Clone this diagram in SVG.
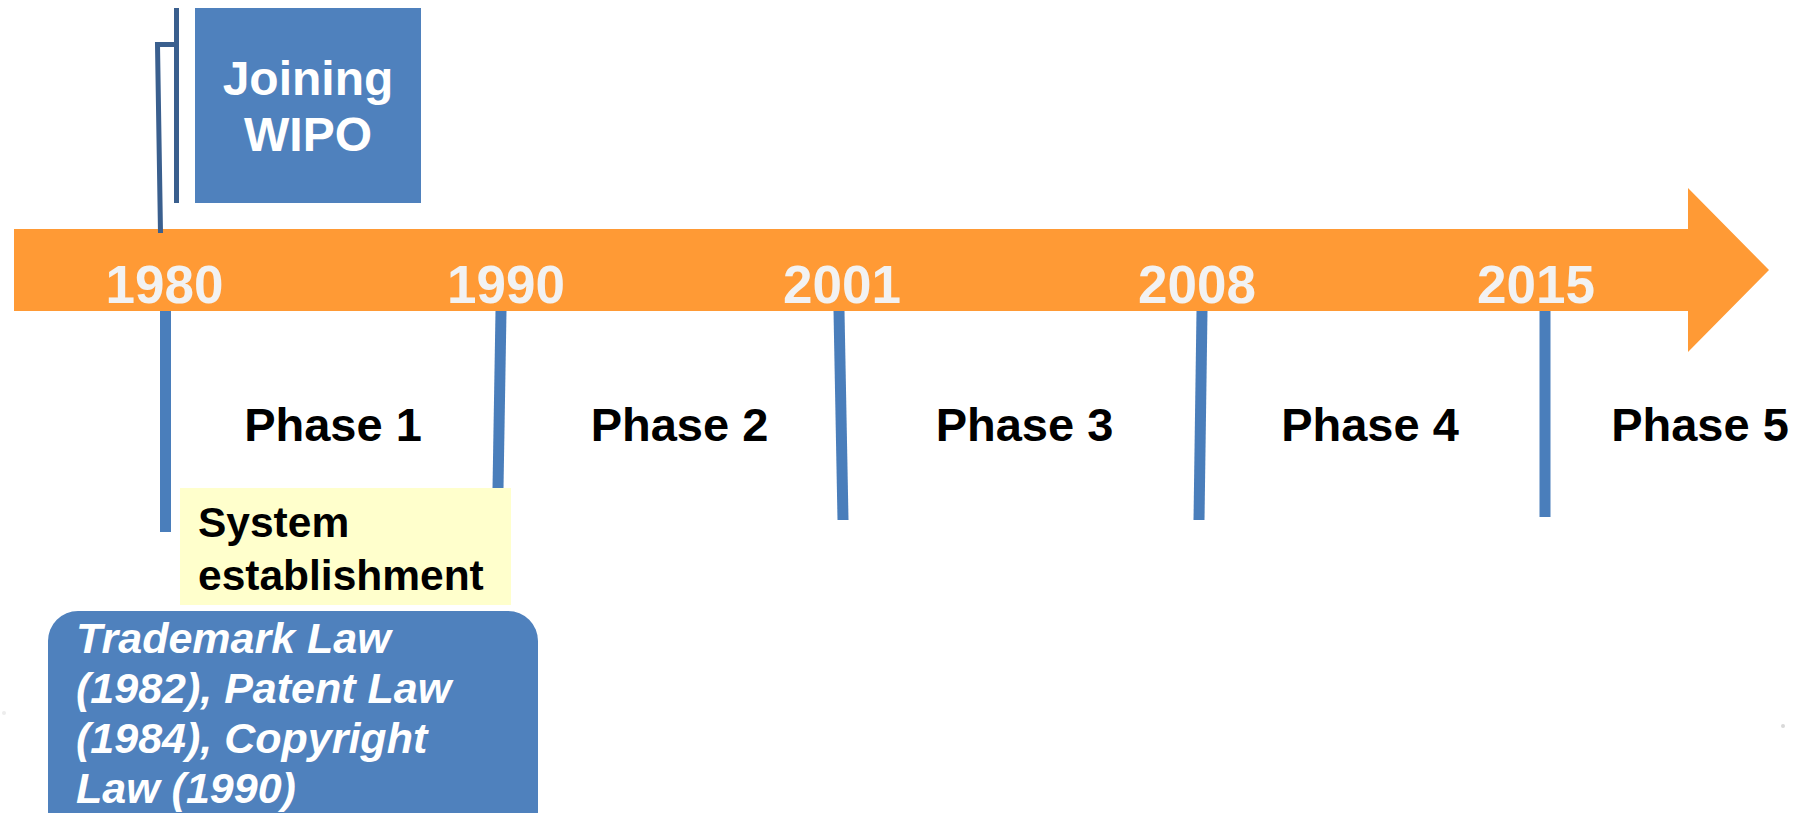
<svg xmlns="http://www.w3.org/2000/svg" width="1805" height="813" viewBox="0 0 1805 813">
  <style>
    .year { font-family: "Liberation Sans", Arial, sans-serif; font-weight: bold; font-size: 53px; fill: #F2F2F2; text-anchor: middle; }
    .phase { font-family: "Liberation Sans", Arial, sans-serif; font-weight: bold; font-size: 47px; fill: #000000; text-anchor: middle; }
    .wipo { font-family: "Liberation Sans", Arial, sans-serif; font-weight: bold; font-size: 48px; fill: #FFFFFF; text-anchor: middle; }
    .note { font-family: "Liberation Sans", Arial, sans-serif; font-weight: bold; font-size: 42.5px; fill: #000000; }
    .law { font-family: "Liberation Sans", Arial, sans-serif; font-weight: bold; font-style: italic; font-size: 43px; fill: #FFFFFF; }
    .tick { stroke: #4A7EBB; stroke-width: 11; fill: none; }
    .callout { stroke: #3A5F8E; stroke-width: 5; fill: none; }
  </style>
  <rect width="1805" height="813" fill="#FFFFFF"/>

  <g id="timeline">
    <polygon points="14,229 1688,229 1688,188 1769,270 1688,352 1688,311 14,311" fill="#FF9A35"/>
    <text class="year" x="164.5" y="303">1980</text>
    <text class="year" x="506" y="303">1990</text>
    <text class="year" x="842" y="303">2001</text>
    <text class="year" x="1197" y="303">2008</text>
    <text class="year" x="1536" y="303">2015</text>
  </g>

  <g id="connectors">
    <line class="tick" x1="165.5" y1="311" x2="165.5" y2="532"/>
    <line class="tick" x1="501" y1="311" x2="498" y2="488"/>
    <line class="tick" x1="839" y1="311" x2="843" y2="520"/>
    <line class="tick" x1="1202" y1="311" x2="1199" y2="520"/>
    <line class="tick" x1="1545" y1="311" x2="1545" y2="517"/>
    <polyline class="callout" points="160.5,233 157.5,44.5 176.5,44.5"/>
    <line class="callout" x1="176.5" y1="8" x2="176.5" y2="203"/>
  </g>

  <g id="joining-wipo">
    <rect x="195" y="8" width="226" height="195" fill="#4F81BD"/>
    <text class="wipo" x="308" y="95">Joining</text>
    <text class="wipo" x="308" y="151">WIPO</text>
  </g>

  <g id="phases">
    <text class="phase" x="333" y="441">Phase 1</text>
    <text class="phase" x="679.5" y="441">Phase 2</text>
    <text class="phase" x="1024.5" y="441">Phase 3</text>
    <text class="phase" x="1370" y="441">Phase 4</text>
    <text class="phase" x="1700" y="441">Phase 5</text>
  </g>

  <g id="system-establishment">
    <rect x="180" y="488" width="331" height="117" fill="#FFFFCC"/>
    <text class="note" x="198" y="537">System</text>
    <text class="note" x="198" y="590">establishment</text>
  </g>

  <g id="laws">
    <rect x="48" y="611" width="490" height="230" rx="30" ry="30" fill="#4F81BD"/>
    <text class="law" x="76" y="653">Trademark Law</text>
    <text class="law" x="76" y="703">(1982), Patent Law</text>
    <text class="law" x="76" y="753">(1984), Copyright</text>
    <text class="law" x="76" y="803">Law (1990)</text>
  </g>

  <circle cx="1783" cy="726" r="2" fill="#D9D9D9"/>
  <circle cx="4" cy="713" r="2" fill="#EDEDED"/>
</svg>
